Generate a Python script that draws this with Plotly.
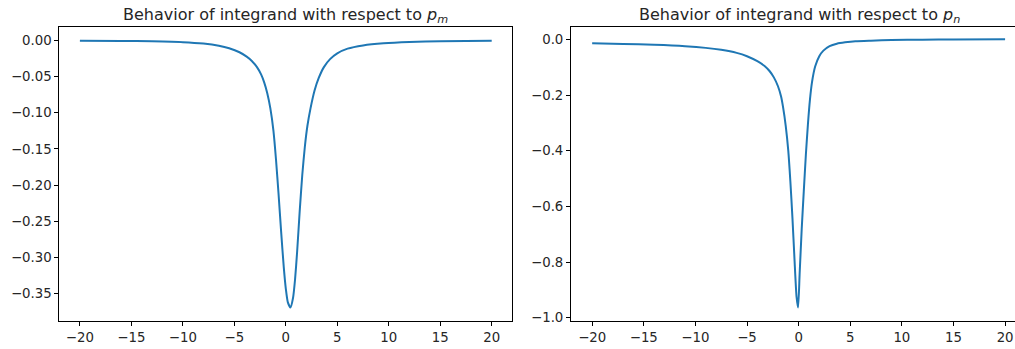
import plotly.graph_objects as go

# ---- data ----
x_m = [-20, -16, -13, -10, -8, -6.5, -5.5, -4.5, -3.8, -3.3, -2.8, -2.4, -2.1, -1.8, -1.5,
       -1.2, -0.95, -0.7, -0.45, -0.2, 0.0, 0.2, 0.45, 0.7, 0.9, 1.1, 1.35, 1.6, 1.85, 2.1,
       2.4, 2.8, 3.2, 3.7, 4.3, 5.0, 6.0, 7.5, 9.5, 12, 15, 20]
y_m = [-0.0005, -0.0009, -0.0014, -0.0025, -0.0045, -0.0075, -0.0110, -0.0165, -0.0225, -0.0285,
       -0.037, -0.047, -0.058, -0.073, -0.094, -0.125, -0.165, -0.213, -0.265, -0.313, -0.343,
       -0.362, -0.369, -0.356, -0.330, -0.292, -0.236, -0.186, -0.147, -0.118, -0.094, -0.069,
       -0.052, -0.037, -0.026, -0.018, -0.0115, -0.0070, -0.0040, -0.0022, -0.0012, -0.0005]

x_n = [-20, -17, -14, -11, -9, -7.5, -6, -5, -4, -3.3, -2.8, -2.4, -2.0, -1.7, -1.5, -1.25,
       -1.0, -0.8, -0.6, -0.4, -0.2, -0.05, 0.1, 0.3, 0.5, 0.7, 0.9, 1.1, 1.3, 1.6, 2.0, 2.4,
       3.0, 3.7, 4.5, 5.5, 7, 9, 12, 15, 20]
y_n = [-0.013, -0.016, -0.019, -0.024, -0.030, -0.037, -0.048, -0.060, -0.078, -0.095, -0.114,
       -0.136, -0.168, -0.205, -0.245, -0.310, -0.400, -0.510, -0.640, -0.790, -0.925, -0.963,
       -0.840, -0.680, -0.545, -0.415, -0.305, -0.215, -0.152, -0.097, -0.060, -0.040, -0.024,
       -0.015, -0.010, -0.006, -0.004, -0.002, -0.0005, 0.0003, 0.001]

x_ticks = [-20, -15, -10, -5, 0, 5, 10, 15, 20]
ym_ticks = [0.00, -0.05, -0.10, -0.15, -0.20, -0.25, -0.30, -0.35]
yn_ticks = [0.0, -0.2, -0.4, -0.6, -0.8, -1.0]
title_m = "Behavior of integrand with respect to <i>p</i><sub><i>m</i></sub>"
title_n = "Behavior of integrand with respect to <i>p</i><sub><i>n</i></sub>"

W, H = 1015, 349
line_color = "#1f77b4"
font_family = "DejaVu Sans"
text_color = "#262626"

fig = go.Figure()
fig.add_trace(go.Scatter(x=x_m, y=y_m, mode="lines", xaxis="x", yaxis="y",
                         line=dict(color=line_color, width=2, shape="spline", smoothing=0.6),
                         showlegend=False, hoverinfo="skip"))
fig.add_trace(go.Scatter(x=x_n, y=y_n, mode="lines", xaxis="x2", yaxis="y2",
                         line=dict(color=line_color, width=2, shape="spline", smoothing=0.6),
                         showlegend=False, hoverinfo="skip"))

common = dict(showline=True, linecolor="black", linewidth=1, ticks="outside", ticklen=4,
              tickwidth=1, tickcolor="black", showgrid=False, zeroline=False,
              tickfont=dict(family=font_family, size=13.3, color=text_color), automargin=False)

fig.update_layout(
    width=W, height=H,
    margin=dict(l=0, r=0, t=27, b=28, pad=0),
    paper_bgcolor="white", plot_bgcolor="white",
    font=dict(family=font_family, color=text_color),
    xaxis=dict(domain=[59.3 / W, 512.3 / W], range=[-22, 22], tickvals=x_ticks,
               tickformat="d", mirror=True, anchor="y", **common),
    yaxis=dict(domain=[0, 1], range=[-0.3877, 0.0184], tickvals=ym_ticks,
               tickformat=".2f", mirror=True, anchor="x", **common),
    xaxis2=dict(domain=[571 / W, 1], range=[-22.05, 20.96], tickvals=x_ticks,
                tickformat="d", mirror=True, anchor="y2", **common),
    yaxis2=dict(domain=[0, 1], range=[-1.0115, 0.045], tickvals=yn_ticks,
                tickformat=".1f", mirror=False, anchor="x2", **common),
    annotations=[
        dict(text=title_m, xref="paper", yref="paper", x=285.8 / W, y=1, xanchor="center",
             yanchor="bottom", yshift=-1, showarrow=False,
             font=dict(family=font_family, size=16, color=text_color)),
        dict(text=title_n, xref="paper", yref="paper", x=799 / W, y=1, xanchor="center",
             yanchor="bottom", yshift=-1, showarrow=False,
             font=dict(family=font_family, size=16, color=text_color)),
    ],
)

fig.write_html("out.html", config={"displayModeBar": False},
               post_script="document.body.style.margin='0';document.body.style.overflow='hidden';")
